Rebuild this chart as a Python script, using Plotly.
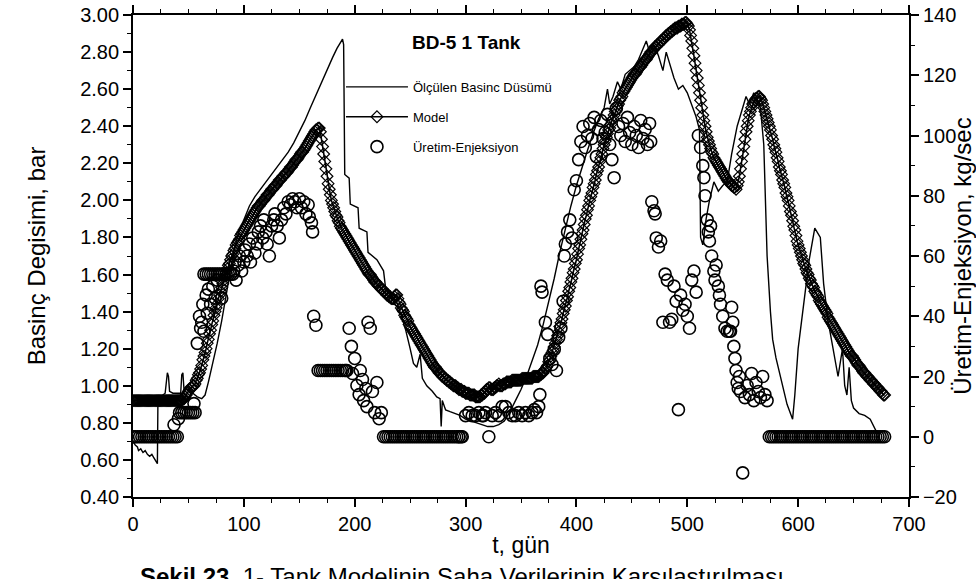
import plotly.graph_objects as go

# ---------------- data ----------------
# Measured pressure drop (left axis, bar)
meas_t = [0, 2, 4, 5, 7, 9, 11, 13, 15, 17, 19, 21, 22, 22.5, 25, 27, 29, 31, 32, 33, 36, 40, 43, 44, 45, 46,
          50, 54, 58, 62, 65, 68, 72, 76, 80, 84, 88, 91, 95, 100, 105, 110, 115, 120, 125, 130, 135, 140,
          145, 150, 155, 160, 165, 170, 175, 180, 184, 187, 189, 190, 191, 195, 196, 203, 204, 211, 212, 220,
          226, 228, 234, 238, 242, 246, 250, 253, 256, 259, 261, 265, 270, 274, 277, 278, 279, 282, 286, 290,
          295, 300, 305, 310, 315, 320, 325, 330, 335, 340, 345, 350, 355, 360, 365, 370, 375, 380, 385, 390,
          395, 400, 405, 410, 415, 420, 425, 428, 430, 433, 437, 440, 444, 448, 452, 456, 460, 463, 466, 470,
          474, 478, 481, 484, 488, 492, 496, 500, 504, 508, 511, 512, 514, 517, 520, 524, 528, 532, 536, 540,
          545, 550, 553, 556, 560, 563, 566, 569, 572, 575, 577, 580, 585, 590, 595, 597, 600, 605, 610, 615,
          620, 623, 627, 630, 633, 636, 640, 642, 644, 646, 648, 650, 655, 660, 665, 670, 672, 675]
meas_p = [0.70, 0.68, 0.67, 0.65, 0.66, 0.64, 0.65, 0.63, 0.62, 0.63, 0.61, 0.59, 0.58, 0.93, 0.94, 0.95, 0.96,
          1.07, 1.05, 0.97, 0.96, 0.96, 0.96, 1.06, 1.07, 0.98, 0.98, 0.96, 0.94, 0.93, 0.95, 1.02, 1.12, 1.23,
          1.35, 1.48, 1.62, 1.73, 1.82, 1.90, 1.97, 2.02, 2.06, 2.10, 2.14, 2.18, 2.22, 2.26, 2.31, 2.37,
          2.43, 2.50, 2.57, 2.64, 2.71, 2.77, 2.82, 2.85, 2.87, 2.84, 2.14, 2.12, 1.98, 1.96, 1.85, 1.83, 1.72,
          1.68, 1.62, 1.52, 1.48, 1.45, 1.38, 1.30, 1.20, 1.12, 1.10, 1.17, 1.04, 1.00, 0.97, 0.94, 0.93, 0.78,
          0.92, 0.87, 0.86, 0.85, 0.84, 0.82, 0.81, 0.80, 0.79, 0.78, 0.78, 0.79, 0.81, 0.86, 0.92, 0.98, 1.05,
          1.13, 1.22, 1.33, 1.45, 1.58, 1.72, 1.85, 1.97, 2.08, 2.18, 2.27, 2.36, 2.44, 2.50, 2.60, 2.52, 2.56,
          2.64, 2.60, 2.68, 2.70, 2.72, 2.76, 2.82, 2.86, 2.80, 2.84, 2.78, 2.70, 2.80, 2.74, 2.66, 2.60, 2.62,
          2.58, 2.52, 2.45, 2.38, 1.80, 1.76, 1.90, 2.00, 2.10, 2.05, 2.08, 2.10, 2.25, 2.40, 2.50, 2.56, 2.52,
          2.58, 2.55, 2.50, 2.30, 1.70, 1.40, 1.25, 1.15, 1.02, 0.90, 0.82, 0.95, 1.20, 1.45, 1.68, 1.85, 1.80,
          1.55, 1.35, 1.25, 1.15, 1.05, 1.20, 1.00, 0.95, 1.10, 0.92, 0.88, 0.85, 0.84, 0.82, 0.76, 0.75]

# Model (left axis, bar), one value per day from t = 0 to 678
model_t = list(range(0, 679))
model_p = [
    0.92, 0.92, 0.92, 0.92, 0.92, 0.92, 0.92, 0.92, 0.92, 0.92,
    0.92, 0.92, 0.92, 0.92, 0.92, 0.92, 0.92, 0.92, 0.92, 0.92,
    0.92, 0.92, 0.92, 0.92, 0.92, 0.92, 0.92, 0.92, 0.92, 0.92,
    0.92, 0.92, 0.92, 0.92, 0.92, 0.92, 0.92, 0.92, 0.92, 0.92,
    0.92, 0.92, 0.92, 0.92, 0.92, 0.93, 0.93, 0.94, 0.95, 0.96,
    0.97, 0.98, 0.99, 0.99, 1.00, 1.00, 1.01, 1.03, 1.04, 1.06,
    1.07, 1.09, 1.11, 1.14, 1.16, 1.18, 1.20, 1.23, 1.25, 1.28,
    1.30, 1.33, 1.35, 1.38, 1.40, 1.42, 1.44, 1.47, 1.49, 1.51,
    1.53, 1.55, 1.57, 1.59, 1.61, 1.63, 1.65, 1.66, 1.68, 1.70,
    1.71, 1.73, 1.74, 1.76, 1.77, 1.78, 1.79, 1.81, 1.82, 1.83,
    1.84, 1.85, 1.86, 1.87, 1.88, 1.89, 1.90, 1.91, 1.92, 1.93,
    1.94, 1.95, 1.96, 1.97, 1.97, 1.98, 1.99, 2.00, 2.00, 2.01,
    2.02, 2.03, 2.03, 2.04, 2.05, 2.06, 2.06, 2.07, 2.08, 2.08,
    2.09, 2.10, 2.11, 2.11, 2.12, 2.13, 2.13, 2.14, 2.15, 2.15,
    2.16, 2.17, 2.18, 2.18, 2.19, 2.20, 2.21, 2.22, 2.22, 2.23,
    2.24, 2.25, 2.26, 2.26, 2.27, 2.28, 2.29, 2.30, 2.31, 2.32,
    2.33, 2.34, 2.35, 2.36, 2.37, 2.38, 2.38, 2.39, 2.39, 2.37,
    2.33, 2.29, 2.25, 2.21, 2.17, 2.13, 2.09, 2.06, 2.03, 2.00,
    1.98, 1.96, 1.94, 1.92, 1.91, 1.89, 1.88, 1.86, 1.85, 1.84,
    1.83, 1.82, 1.81, 1.80, 1.79, 1.78, 1.77, 1.76, 1.75, 1.74,
    1.73, 1.72, 1.71, 1.70, 1.69, 1.68, 1.67, 1.66, 1.65, 1.64,
    1.63, 1.62, 1.61, 1.60, 1.60, 1.59, 1.58, 1.57, 1.56, 1.56,
    1.55, 1.54, 1.54, 1.53, 1.52, 1.52, 1.51, 1.51, 1.50, 1.49,
    1.49, 1.48, 1.48, 1.47, 1.47, 1.47, 1.48, 1.49, 1.49, 1.47,
    1.45, 1.44, 1.42, 1.41, 1.40, 1.38, 1.37, 1.36, 1.35, 1.33,
    1.32, 1.31, 1.30, 1.29, 1.28, 1.27, 1.26, 1.25, 1.24, 1.23,
    1.22, 1.21, 1.20, 1.19, 1.18, 1.17, 1.16, 1.15, 1.14, 1.13,
    1.12, 1.11, 1.10, 1.10, 1.09, 1.08, 1.07, 1.07, 1.06, 1.05,
    1.05, 1.04, 1.04, 1.03, 1.03, 1.02, 1.02, 1.01, 1.01, 1.00,
    1.00, 1.00, 0.99, 0.99, 0.98, 0.98, 0.98, 0.97, 0.97, 0.97,
    0.96, 0.96, 0.96, 0.96, 0.95, 0.95, 0.95, 0.95, 0.95, 0.94,
    0.94, 0.94, 0.94, 0.94, 0.95, 0.95, 0.96, 0.96, 0.97, 0.98,
    0.98, 0.99, 0.99, 0.98, 0.98, 0.98, 0.99, 0.99, 1.00, 1.00,
    1.01, 1.00, 1.00, 1.00, 1.01, 1.01, 1.01, 1.02, 1.02, 1.02,
    1.02, 1.02, 1.03, 1.03, 1.03, 1.03, 1.03, 1.03, 1.03, 1.03,
    1.03, 1.04, 1.04, 1.04, 1.04, 1.04, 1.04, 1.04, 1.04, 1.04,
    1.04, 1.05, 1.05, 1.05, 1.05, 1.05, 1.05, 1.06, 1.06, 1.07,
    1.07, 1.08, 1.09, 1.10, 1.11, 1.13, 1.14, 1.16, 1.18, 1.19,
    1.21, 1.23, 1.25, 1.27, 1.29, 1.32, 1.34, 1.36, 1.39, 1.41,
    1.43, 1.46, 1.48, 1.51, 1.53, 1.56, 1.58, 1.61, 1.63, 1.66,
    1.68, 1.71, 1.74, 1.76, 1.79, 1.82, 1.84, 1.87, 1.90, 1.92,
    1.95, 1.97, 2.00, 2.02, 2.04, 2.07, 2.09, 2.11, 2.14, 2.16,
    2.18, 2.21, 2.23, 2.25, 2.28, 2.30, 2.32, 2.34, 2.36, 2.38,
    2.39, 2.41, 2.43, 2.44, 2.46, 2.48, 2.49, 2.51, 2.52, 2.54,
    2.55, 2.56, 2.58, 2.59, 2.60, 2.61, 2.62, 2.63, 2.64, 2.65,
    2.66, 2.67, 2.68, 2.68, 2.69, 2.70, 2.71, 2.72, 2.72, 2.73,
    2.74, 2.75, 2.76, 2.76, 2.77, 2.78, 2.79, 2.80, 2.80, 2.81,
    2.82, 2.83, 2.83, 2.84, 2.84, 2.85, 2.86, 2.86, 2.87, 2.87,
    2.88, 2.89, 2.89, 2.90, 2.90, 2.91, 2.91, 2.92, 2.92, 2.93,
    2.93, 2.93, 2.94, 2.94, 2.94, 2.95, 2.95, 2.95, 2.96, 2.96,
    2.95, 2.94, 2.92, 2.89, 2.86, 2.82, 2.78, 2.74, 2.70, 2.66,
    2.62, 2.58, 2.54, 2.50, 2.46, 2.43, 2.40, 2.37, 2.34, 2.32,
    2.30, 2.28, 2.26, 2.25, 2.23, 2.22, 2.21, 2.20, 2.19, 2.18,
    2.17, 2.16, 2.15, 2.14, 2.13, 2.12, 2.11, 2.10, 2.10, 2.09,
    2.08, 2.08, 2.07, 2.07, 2.06, 2.08, 2.10, 2.13, 2.17, 2.21,
    2.25, 2.29, 2.33, 2.37, 2.40, 2.43, 2.46, 2.48, 2.50, 2.52,
    2.53, 2.54, 2.55, 2.55, 2.56, 2.56, 2.55, 2.54, 2.52, 2.50,
    2.48, 2.46, 2.44, 2.42, 2.40, 2.38, 2.35, 2.33, 2.30, 2.28,
    2.26, 2.23, 2.21, 2.18, 2.16, 2.14, 2.11, 2.09, 2.07, 2.04,
    2.02, 2.00, 1.97, 1.94, 1.92, 1.89, 1.86, 1.84, 1.81, 1.78,
    1.76, 1.74, 1.72, 1.70, 1.68, 1.66, 1.65, 1.63, 1.61, 1.60,
    1.58, 1.57, 1.55, 1.54, 1.53, 1.51, 1.50, 1.49, 1.48, 1.46,
    1.45, 1.44, 1.43, 1.42, 1.41, 1.40, 1.39, 1.37, 1.36, 1.35,
    1.34, 1.33, 1.32, 1.31, 1.30, 1.29, 1.28, 1.27, 1.26, 1.25,
    1.24, 1.23, 1.22, 1.21, 1.20, 1.19, 1.18, 1.17, 1.16, 1.16,
    1.15, 1.14, 1.13, 1.12, 1.11, 1.11, 1.10, 1.09, 1.08, 1.07,
    1.07, 1.06, 1.05, 1.05, 1.04, 1.03, 1.03, 1.02, 1.01, 1.01,
    1.00, 0.99, 0.99, 0.98, 0.97, 0.97, 0.96, 0.95, 0.95]

# Production-injection (right axis, kg/sec)
flow_t = [0, 2, 4, 6, 8, 10, 12, 14, 16, 18, 20, 22, 24, 26, 28, 30, 32, 34, 36, 38, 40,
          37, 41, 42, 44, 46, 48, 50, 52, 54, 56, 55,
          58, 60, 61, 62, 63, 64, 66, 67, 68, 70, 72, 74, 76, 80,
          64, 66, 68, 70, 72, 74, 76, 78, 80, 82, 84, 86, 88, 90,
          91, 92, 93, 95, 96, 98, 100, 101, 103, 105, 106, 108, 110, 112, 113, 115, 117, 118, 120,
          121, 123, 125, 127, 128, 130, 132, 134, 136, 138, 140, 142, 144, 146, 148, 150, 152, 154, 156,
          158, 159, 161, 162,
          163, 165, 167, 169, 171, 173, 175, 177, 179, 181, 183, 185, 187, 189, 191,
          192, 193, 195, 197, 198, 200, 202, 204, 205, 207, 208, 210, 211, 212, 214, 216, 218, 220,
          222, 224, 226, 228, 230, 232, 234, 236, 238, 240, 242, 244, 246, 248, 250, 252, 254, 256, 258,
          260, 262, 264, 266, 268, 270, 272, 274, 276, 278, 280, 282, 284, 286, 288, 290, 292, 294, 296,
          294, 297, 300, 303, 306, 309, 312, 315, 316, 318, 321, 324, 327, 330, 333, 336, 339, 342, 345,
          348, 351, 354, 357, 360,
          362, 364, 366, 367, 368, 369, 372, 374, 376, 378, 380, 382, 384, 386, 388, 389, 390, 392, 394,
          396, 398, 400, 402, 404, 406, 408, 410, 412, 414, 416, 418, 420, 422, 424, 426, 428, 430, 432,
          434, 436, 438, 440, 442, 444, 446, 448, 450, 452, 454, 456, 458, 460, 462, 464,
          466, 467, 468, 470, 471, 472, 474, 476, 478, 480, 482, 484, 486, 488, 490, 492, 494, 496, 498,
          500, 502, 504,
          506, 508, 510, 512, 514, 515, 516, 518, 519, 520, 521, 522, 524, 525, 526, 528, 529, 530, 532,
          534, 536, 538, 539, 540, 541, 542, 543, 544, 545, 546, 547, 548, 550, 552, 554, 556, 558, 560,
          562, 564, 566, 568,
          570, 572, 574, 576, 578, 580, 582, 584, 586, 588, 590, 592, 594, 596, 598, 600, 602, 604, 606,
          608, 610, 612, 614, 616, 618, 620, 622, 624, 626, 628, 630, 632, 634, 636, 638, 640, 642, 644,
          646, 648, 650, 652, 654, 656, 658, 660, 662, 664, 666, 668, 670, 672, 674, 676, 678]
flow_q = [0, 0, 0, 0, 0, 0, 0, 0, 0, 0, 0, 0, 0, 0, 0, 0, 0, 0, 0, 0, 0,
          4, 6, 8, 8, 8, 8, 8, 8, 8, 8, 11,
          31, 40, 36, 38, 44, 35, 47, 41, 49, 44, 50, 46, 52, 46,
          54, 54, 54, 54, 54, 54, 54, 54, 54, 54, 54, 54, 54, 54,
          55, 58, 52, 57, 60, 55, 58, 62, 60, 64, 58, 66, 61, 64, 68, 70, 66, 72, 68, 64, 60,
          70, 72, 74, 70, 66, 72, 76, 74, 78, 77, 79, 78, 76, 79, 76, 78, 74, 77, 73,
          71, 68, 40, 37,
          22, 22, 22, 22, 22, 22, 22, 22, 22, 22, 22, 22, 22, 22, 22,
          36, 30, 21, 26, 17, 14, 22, 19, 12, 16, 10, 38, 36, 15, 8, 18, 6, 8,
          0, 0, 0, 0, 0, 0, 0, 0, 0, 0, 0, 0, 0, 0, 0, 0, 0, 0, 0,
          0, 0, 0, 0, 0, 0, 0, 0, 0, 0, 0, 0, 0, 0, 0, 0, 0, 0, 0,
          7, 8, 7, 7, 8, 7, 7, 8, 0, 7, 8, 7, 10, 10, 8, 7, 7, 8, 7,
          8, 7, 8, 9, 8,
          10, 14, 50, 48, 38, 34, 26, 24, 29, 22, 33, 36, 45, 60, 64, 68, 72, 66, 82,
          85, 92, 98, 103, 96, 100, 104, 99, 106, 93, 102, 105, 99, 101, 107, 97, 92, 86, 109,
          103, 100, 104, 98, 106, 101, 97, 103, 100, 96, 105, 99, 102, 97, 104, 98,
          78, 75, 74, 66, 63, 65, 38, 54, 52, 38, 39, 50, 45, 9, 47, 42, 44, 40, 36,
          52, 55, 48,
          100, 96, 90, 86, 80, 72, 68, 65, 70, 60, 55, 52, 57, 50, 47, 44, 40, 36, 35,
          35, 35, 43, 38, 30, 26, 22, 18, 16, 20, 15, -12, 13, 17, 14, 21, 12, 18, 15,
          13, 20, 14, 12,
          0, 0, 0, 0, 0, 0, 0, 0, 0, 0, 0, 0, 0, 0, 0, 0, 0, 0, 0,
          0, 0, 0, 0, 0, 0, 0, 0, 0, 0, 0, 0, 0, 0, 0, 0, 0, 0, 0,
          0, 0, 0, 0, 0, 0, 0, 0, 0, 0, 0, 0, 0, 0, 0, 0, 0, 0, 0]

x_ticks = [0, 100, 200, 300, 400, 500, 600, 700]
y_ticks = [0.40, 0.60, 0.80, 1.00, 1.20, 1.40, 1.60, 1.80, 2.00, 2.20, 2.40, 2.60, 2.80, 3.00]
y2_ticks = [-20, 0, 20, 40, 60, 80, 100, 120, 140]

FONT = "Arial, Liberation Sans, sans-serif"

fig = go.Figure()
fig.add_trace(go.Scatter(
    x=meas_t, y=meas_p, mode="lines", name="Ölçülen Basinc Düsümü",
    line=dict(color="black", width=1.4), legendgroup="a"))
fig.add_trace(go.Scatter(
    x=model_t, y=model_p, mode="lines+markers", name="Model",
    line=dict(color="black", width=1.6),
    marker=dict(symbol="diamond-open", size=9, color="black", line=dict(width=1.2)),
    legendgroup="b"))
fig.add_trace(go.Scatter(
    x=flow_t, y=flow_q, mode="markers", name="Üretim-Enjeksiyon", yaxis="y2",
    marker=dict(symbol="circle-open", size=12, color="black", line=dict(width=1.6)),
    legendgroup="c"))

axis_common = dict(showline=True, linecolor="black", linewidth=1.8, ticks="outside",
                   tickcolor="black", tickwidth=1.5, ticklen=8, showgrid=False, zeroline=False,
                   automargin=False,
                   tickfont=dict(family=FONT, size=20, color="black"))

fig.update_layout(
    width=976, height=579,
    margin=dict(l=133, r=67, t=15, b=82),
    paper_bgcolor="white", plot_bgcolor="white",
    font=dict(family=FONT, color="black"),
    xaxis=dict(range=[0, 700], tickvals=x_ticks, mirror="ticks",
               minor=dict(dtick=25, ticklen=4, tickwidth=1.2, tickcolor="black", ticks="outside"),
               title=dict(text="t, gün", font=dict(family=FONT, size=23), standoff=3),
               **axis_common),
    yaxis=dict(range=[0.40, 3.00], tickvals=y_ticks, tickformat=".2f",
               minor=dict(dtick=0.1, ticklen=4, tickwidth=1.2, tickcolor="black", ticks="outside"),
               title=dict(text="Basinç Degisimi, bar", font=dict(family=FONT, size=24), standoff=28),
               **axis_common),
    yaxis2=dict(range=[-20, 140], tickvals=y2_ticks, overlaying="y", side="right",
                minor=dict(dtick=10, ticklen=4, tickwidth=1.2, tickcolor="black", ticks="outside"),
                title=dict(text="Üretim-Enjeksiyon, kg/sec", font=dict(family=FONT, size=24), standoff=4),
                **axis_common),
    showlegend=True,
    legend=dict(x=0.268, y=0.882, xanchor="left", yanchor="top", bgcolor="rgba(0,0,0,0)",
                font=dict(family=FONT, size=13), tracegroupgap=10, traceorder="grouped",
                itemwidth=62),
    annotations=[
        dict(text="<b>BD-5 1 Tank</b>", xref="paper", yref="paper", x=0.43, y=0.942,
             xanchor="center", yanchor="middle", showarrow=False,
             font=dict(family=FONT, size=19, color="black")),
        dict(text="<b>Şekil 23.</b> 1- Tank Modelinin Saha Verilerinin Karşılaştırılması",
             xref="paper", yref="paper", x=0.006, y=-0.133, xanchor="left", yanchor="top",
             showarrow=False, font=dict(family=FONT, size=24, color="black")),
    ],
)

fig.write_html("out.html")
